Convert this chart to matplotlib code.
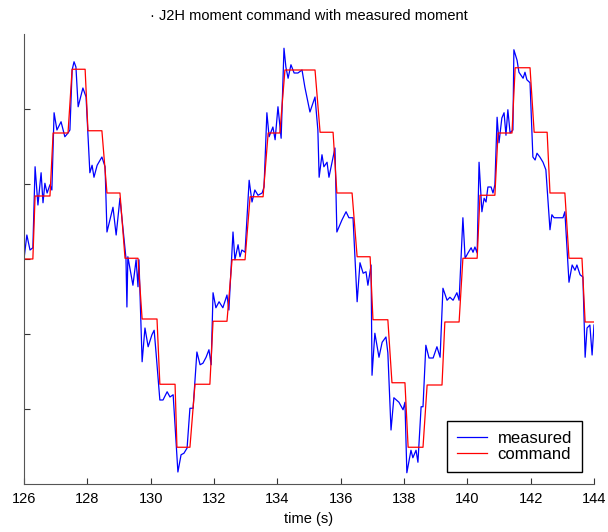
import matplotlib
matplotlib.use("Agg")
import matplotlib.pyplot as plt
import numpy as np

plt.rcParams["font.family"] = ["Liberation Sans", "DejaVu Sans"]

# measured moment (time in s, value in tick units)
meas_t = [126.00, 126.09, 126.19, 126.28, 126.35, 126.44, 126.54, 126.60, 126.66, 126.73,
          126.82, 126.88, 126.95, 127.04, 127.17, 127.29, 127.39, 127.45, 127.52, 127.58,
          127.64, 127.71, 127.86, 127.96, 128.08, 128.15, 128.21, 128.31, 128.46, 128.56,
          128.62, 128.81, 128.91, 129.03, 129.22, 129.25, 129.28, 129.44, 129.54, 129.60,
          129.63, 129.73, 129.82, 129.92, 130.04, 130.11, 130.17, 130.29, 130.39, 130.52,
          130.61, 130.71, 130.86, 130.96, 131.05, 131.15, 131.24, 131.34, 131.46, 131.56,
          131.65, 131.75, 131.84, 131.91, 131.97, 132.06, 132.16, 132.28, 132.41, 132.47,
          132.60, 132.66, 132.76, 132.82, 132.88, 132.98, 133.11, 133.20, 133.29, 133.39,
          133.52, 133.58, 133.67, 133.74, 133.86, 133.93, 134.02, 134.12, 134.21, 134.27,
          134.34, 134.43, 134.53, 134.65, 134.78, 134.87, 135.03, 135.19, 135.28, 135.32,
          135.41, 135.47, 135.57, 135.63, 135.82, 135.88, 136.04, 136.17, 136.26, 136.39,
          136.45, 136.52, 136.61, 136.71, 136.80, 136.86, 136.96, 136.99, 137.08, 137.21,
          137.31, 137.43, 137.49, 137.59, 137.68, 137.84, 137.97, 138.03, 138.09, 138.22,
          138.28, 138.38, 138.44, 138.54, 138.60, 138.69, 138.79, 138.92, 139.04, 139.14,
          139.23, 139.36, 139.45, 139.55, 139.67, 139.74, 139.80, 139.86, 139.93, 140.02,
          140.12, 140.18, 140.24, 140.31, 140.37, 140.46, 140.53, 140.59, 140.65, 140.75,
          140.81, 140.87, 140.94, 141.00, 141.09, 141.16, 141.22, 141.28, 141.35, 141.44,
          141.47, 141.57, 141.63, 141.76, 141.82, 141.88, 141.98, 142.07, 142.14, 142.20,
          142.29, 142.39, 142.48, 142.61, 142.67, 142.74, 142.86, 143.02, 143.08, 143.21,
          143.31, 143.40, 143.46, 143.56, 143.65, 143.72, 143.78, 143.87, 143.94, 144.00]
meas_v = [0.00, 0.32, 0.12, 0.15, 1.23, 0.72, 1.15, 0.75, 1.01, 0.88,
          0.99, 0.92, 1.95, 1.72, 1.83, 1.63, 1.68, 1.72, 2.52, 2.63,
          2.56, 2.03, 2.28, 2.16, 1.15, 1.25, 1.09, 1.25, 1.36, 1.23,
          0.36, 0.69, 0.32, 0.81, 0.01, -0.64, 0.03, -0.35, -0.01, -0.37,
          -0.01, -1.37, -0.92, -1.17, -1.01, -0.95, -1.25, -1.88, -1.88, -1.77,
          -1.84, -1.81, -2.84, -2.61, -2.59, -2.52, -1.99, -1.99, -1.24, -1.41,
          -1.39, -1.31, -1.21, -1.41, -0.45, -0.65, -0.57, -0.65, -0.48, -0.68,
          0.36, -0.01, 0.19, 0.03, 0.12, 0.09, 1.05, 0.76, 0.92, 0.85,
          0.88, 0.96, 1.95, 1.63, 1.76, 1.59, 2.03, 1.61, 2.81, 2.56,
          2.41, 2.59, 2.48, 2.48, 2.52, 2.29, 1.96, 2.16, 1.72, 1.09,
          1.39, 1.23, 1.29, 1.09, 1.48, 0.36, 0.52, 0.63, 0.55, 0.55,
          0.03, -0.57, -0.05, -0.19, -0.17, -0.35, -0.08, -1.55, -0.99, -1.31,
          -1.11, -1.04, -1.25, -2.28, -1.85, -1.91, -2.01, -1.91, -2.85, -2.55,
          -2.65, -2.55, -2.71, -1.97, -1.97, -1.15, -1.32, -1.32, -1.17, -1.31,
          -0.39, -0.55, -0.51, -0.55, -0.45, -0.55, -0.01, 0.55, 0.01, 0.08,
          0.15, 0.09, 0.16, 0.08, 1.29, 0.63, 0.81, 0.76, 0.96, 0.96,
          0.88, 0.99, 1.89, 1.55, 1.88, 1.95, 1.65, 1.99, 1.68, 1.72,
          2.79, 2.65, 2.49, 2.41, 2.49, 2.39, 2.35, 1.36, 1.32, 1.41,
          1.36, 1.29, 1.19, 0.39, 0.59, 0.55, 0.55, 0.55, 0.63, -0.31,
          -0.08, -0.15, -0.08, -0.21, -0.24, -1.31, -0.92, -0.88, -1.28, -0.88]

# command staircase: each level held from cmd_start to cmd_end
cmd_start = [126.00, 126.35, 126.92, 127.52, 128.02, 128.62, 129.19, 129.73, 130.29, 130.83,
             131.40, 131.97, 132.57, 133.14, 133.71, 134.24, 135.35, 135.88, 136.52, 137.02,
             137.62, 138.13, 138.73, 139.29, 139.86, 140.40, 140.97, 141.51, 142.11, 142.61,
             143.21, 143.72]
cmd_end = [126.28, 126.82, 127.39, 127.93, 128.46, 129.03, 129.60, 130.20, 130.77, 131.24,
           131.87, 132.41, 132.98, 133.55, 134.08, 135.19, 135.76, 136.36, 136.93, 137.49,
           138.03, 138.60, 139.20, 139.74, 140.31, 140.87, 141.41, 141.98, 142.52, 143.08,
           143.62, 144.00]
cmd_level = [0.00, 0.84, 1.68, 2.53, 1.71, 0.88, 0.01, -0.80, -1.67, -2.51,
             -1.67, -0.83, -0.01, 0.83, 1.68, 2.52, 1.69, 0.88, 0.03, -0.81,
             -1.65, -2.51, -1.68, -0.84, 0.01, 0.85, 1.68, 2.55, 1.69, 0.88,
             0.01, -0.84]

cmd_t = np.ravel(np.column_stack([cmd_start, cmd_end]))
cmd_v = np.repeat(cmd_level, 2)

fig = plt.figure(figsize=(6.08, 5.32), dpi=100)
ax = fig.add_axes([24 / 608, 48 / 532, 570 / 608, 450 / 532])

ax.plot(meas_t, meas_v, color="#0000ff", lw=0.9, label="measured")
ax.plot(cmd_t, cmd_v, color="#ff0000", lw=0.9, label="command")

ax.set_xlim(126, 144)
ax.set_ylim(-3, 3)
ax.set_xticks(np.arange(126, 145, 2))
ax.set_yticks([-2, -1, 0, 1, 2])
ax.set_yticklabels([])
ax.tick_params(direction="in", length=4, width=0.8, color="#333333", labelsize=10.5, pad=6)
for side in ["top", "right"]:
    ax.spines[side].set_visible(False)
for side in ["left", "bottom"]:
    ax.spines[side].set_color("#555555")
    ax.spines[side].set_linewidth(0.8)

ax.set_xlabel("time (s)", fontsize=10.5, labelpad=4)
ax.set_title("\u00b7 J2H moment command with measured moment", fontsize=10.5, pad=10)

leg = ax.legend(loc="lower right", bbox_to_anchor=(0.979, 0.027), borderaxespad=0,
                fontsize=12, fancybox=False, edgecolor="black", framealpha=1,
                handlelength=1.8, handletextpad=0.65, labelspacing=0.08, borderpad=0.6)
leg.get_frame().set_linewidth(1.0)

fig.savefig("out.png", dpi=100)
